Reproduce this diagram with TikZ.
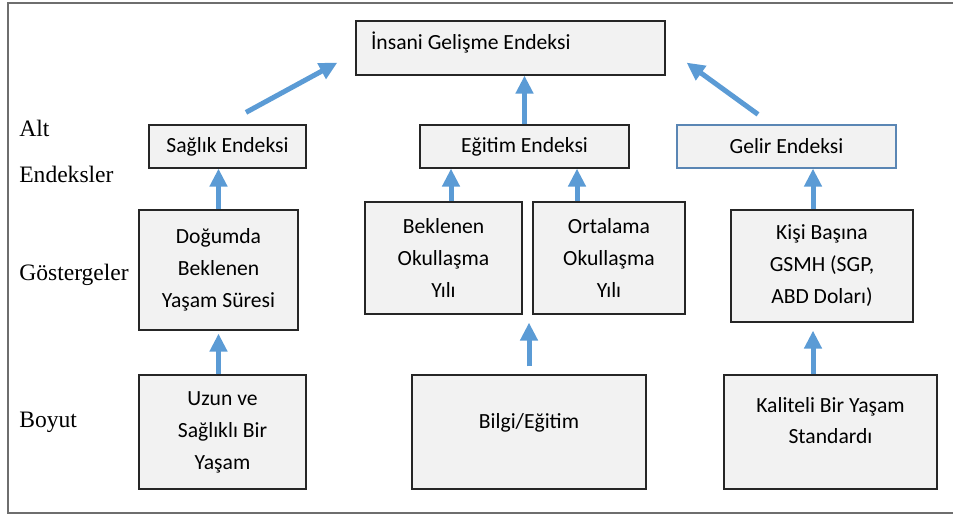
\documentclass[tikz,border=0pt]{standalone}
\usepackage{fontspec}
\setmainfont{Carlito}
\newfontfamily\timesfont{Liberation Serif}
\usetikzlibrary{arrows.meta,calc}
\definecolor{arrowblue}{HTML}{5B9BD5}
\definecolor{boxfill}{HTML}{F2F2F2}
\definecolor{boxline}{HTML}{262626}
\definecolor{gelirline}{HTML}{5A86B4}
\definecolor{framegray}{HTML}{6E6E6E}
\begin{document}
\begin{tikzpicture}[x=0.02cm, y=-0.02cm,
  box/.style={draw=boxline, line width=0.7pt, fill=boxfill, align=center, inner sep=0pt,
    font=\fontsize{12.3}{18.2}\selectfont},
  arr/.style={draw=arrowblue, line width=0.1cm, -{Triangle[width=0.34cm,length=0.36cm]}},
  lbl/.style={anchor=base west, inner sep=0pt, font=\timesfont\fontsize{13.4}{16}\selectfont},
  upper/.style={text depth=0.46cm}]
  \useasboundingbox (0,0) rectangle (953,516);
  \draw[framegray, line width=0.035cm] (953,3) -- (8,3) -- (8,513) -- (953,513);

  \node[box, minimum width=6.18cm, minimum height=1.08cm, text width=5.58cm, align=flush left,
    text height=0.57cm, text depth=0.51cm] (hdi) at (510.5,48) {İnsani Gelişme Endeksi};

  \node[box, minimum width=3.14cm, minimum height=0.86cm] (saglik) at (227.5,146.5) {Sağlık Endeksi};
  \node[box, minimum width=4.18cm, minimum height=0.86cm] (egitim) at (524.5,146.5) {Eğitim Endeksi};
  \node[box, draw=gelirline, minimum width=4.38cm, minimum height=0.86cm] (gelir) at (786.5,146.5) {Gelir Endeksi};

  \node[box, minimum width=3.18cm, minimum height=2.4cm] (dogum) at (218.5,270) {Doğumda\\Beklenen\\Yaşam Süresi};
  \node[box, minimum width=3.14cm, minimum height=2.24cm] (bekl) at (443.5,258) {Beklenen\\Okullaşma\\Yılı};
  \node[box, minimum width=3.04cm, minimum height=2.24cm] (ort) at (609,258) {Ortalama\\Okullaşma\\Yılı};
  \node[box, minimum width=3.64cm, minimum height=2.24cm] (kisi) at (822,266) {Kişi Başına\\GSMH (SGP,\\ABD Doları)};

  \node[box, minimum width=3.34cm, minimum height=2.28cm] (uzun) at (222.5,432) {Uzun ve\\Sağlıklı Bir\\Yaşam};
  \node[box, upper, minimum width=4.68cm, minimum height=2.28cm] (bilgi) at (529,432) {Bilgi/Eğitim};
  \node[box, upper, minimum width=4.26cm, minimum height=2.28cm] (kalite) at (830.5,432) {Kaliteli Bir Yaşam\\Standardı};

  \node[lbl] (alt) at (19,137) {Alt};
  \node[lbl] (endeksler) at (19,183) {Endeksler};
  \node[lbl] (gosterge) at (19,281) {Göstergeler};
  \node[lbl] (boyut) at (19,428) {Boyut};

  \coordinate (bk) at ($(bekl.north)+(7.5,0)$);
  \coordinate (or) at ($(ort.north)+(-32,0)$);
  \coordinate (ks) at ($(kisi.north)+(-9,0)$);
  \coordinate (bg) at ($(bilgi.north)+(0,-8)$);

  \draw[arr] ($(saglik.north)+(18.5,-12)$) -- ($(hdi.south west)+(-18,-13)$);
  \draw[arr] (egitim.north) -- (egitim.north |- hdi.south);
  \draw[arr] ($(gelir.north)+(-28.5,-10)$) -- ($(hdi.south east)+(21,-13)$);
  \draw[arr] (dogum.north) -- (dogum.north |- saglik.south);
  \draw[arr] (bk) -- (bk |- egitim.south);
  \draw[arr] (or) -- (or |- egitim.south);
  \draw[arr] (ks) -- (ks |- gelir.south);
  \draw[arr] (dogum.south |- uzun.north) -- ($(dogum.south)+(0,3)$);
  \draw[arr] (bg) -- ($(bg |- bekl.south)+(0,8)$);
  \draw[arr] (ks |- kalite.north) -- ($(ks |- kisi.south)+(0,8)$);
\end{tikzpicture}
\end{document}
